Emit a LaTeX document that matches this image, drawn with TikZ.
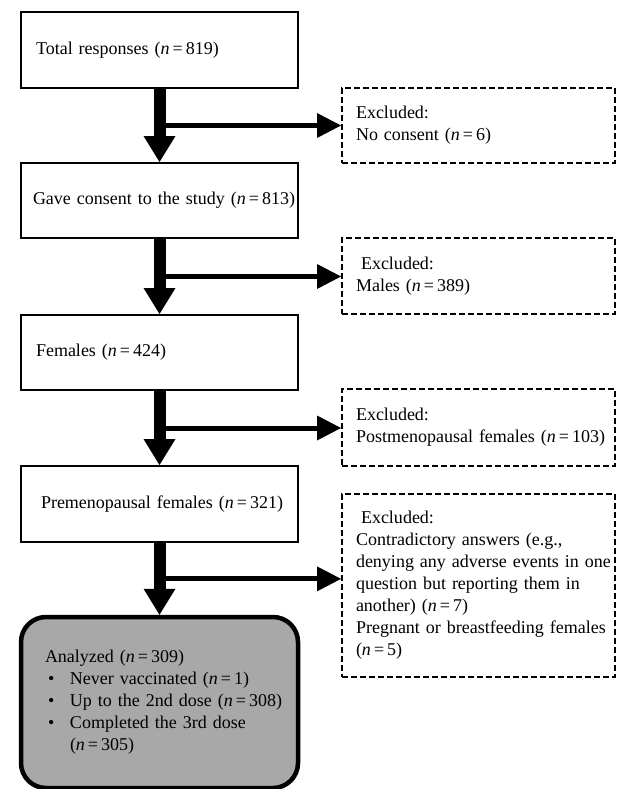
\documentclass[tikz,border=0pt]{standalone}
\usepackage{fontspec}
\setmainfont{Liberation Serif}
\usetikzlibrary{arrows.meta,calc}
\definecolor{boxgray}{HTML}{A8A8A8}
\newcommand{\nn}[1]{(\textit{n}\,=\,#1)}

\begin{document}
\begin{tikzpicture}[x=1pt,y=-1pt,font=\fontsize{18}{22}\selectfont,
    stage/.style={draw,line width=2pt,minimum width=277pt,text width=277pt,inner xsep=0pt,align=left,
      execute at begin node={\leftskip=15pt\relax}},
    excl/.style={draw,line width=2pt,dash pattern=on 6pt off 3pt,minimum width=273pt,text width=273pt,inner xsep=0pt,align=left,
      execute at begin node={\leftskip=14pt\relax\hyphenpenalty=10000}},
    final/.style={draw,line width=4.5pt,rounded corners=25pt,fill=boxgray,minimum width=277pt,text width=277pt,inner xsep=0pt,align=left,
      execute at begin node={\leftskip=24pt\relax}},
    down/.style={line width=12pt,-{Triangle[length=26pt,width=32pt,line width=0pt]}},
    aside/.style={line width=5pt,-{Triangle[length=24pt,width=25pt,line width=0pt]}}]
  \useasboundingbox (0,0) rectangle (616,789);
  \node[stage,minimum height=76pt] (total) at (159.5,50) {Total responses \nn{819}};
  \node[stage,minimum height=75pt] (consent) at (159.5,200.5) {\hspace*{-3pt}\mbox{Gave consent to the study \nn{813}}};
  \node[stage,minimum height=75pt] (females) at (159.5,352.5) {Females \nn{424}};
  \node[stage,minimum height=76pt] (premeno) at (159.5,504) {\hspace*{5pt}Premenopausal females \nn{321}};
  \node[final,minimum height=171pt] (analyzed) at (159.5,702.5) {Analyzed \nn{309}\\
    \hspace*{3pt}\makebox[22pt][l]{\textbullet}Never vaccinated \nn{1}\\
    \hspace*{3pt}\makebox[22pt][l]{\textbullet}Up to the 2nd dose \nn{308}\\
    \hspace*{3pt}\makebox[22pt][l]{\textbullet}Completed the 3rd dose\\
    \hspace*{25pt}\nn{305}};
  \node[excl,minimum height=75pt] (nocons) at (478.5,125.5) {Excluded:\\No consent \nn{6}};
  \node[excl,minimum height=76pt] (males) at (478.5,276) {\hspace*{5pt}Excluded:\\Males \nn{389}};
  \node[excl,minimum height=77pt] (postmeno) at (478.5,427.5) {Excluded:\\Postmenopausal females \nn{103}};
  \node[excl,minimum height=183pt] (other) at (478.5,585.5) {\hspace*{5pt}Excluded:\\Contradictory answers (e.g.,\\denying any adverse events in one\\question but reporting them in\\another) \nn{7}\\Pregnant or breastfeeding females\\\nn{5}};
  \coordinate (m1) at ($(total.south)!0.5!(consent.north)$);
  \coordinate (m2) at ($(consent.south)!0.5!(females.north)$);
  \coordinate (m3) at ($(females.south)!0.5!(premeno.north)$);
  \coordinate (m4) at ($(premeno.south)!0.5!(analyzed.north)$);
  \draw[down] (total.south) -- (consent.north);
  \draw[down] (consent.south) -- (females.north);
  \draw[down] (females.south) -- (premeno.north);
  \draw[down] (premeno.south) -- (analyzed.north);
  \draw[aside] (m1) -- (m1 -| nocons.west);
  \draw[aside] (m2) -- (m2 -| males.west);
  \draw[aside] (m3) -- (m3 -| postmeno.west);
  \draw[aside] (m4) -- (m4 -| other.west);
\end{tikzpicture}
\end{document}
